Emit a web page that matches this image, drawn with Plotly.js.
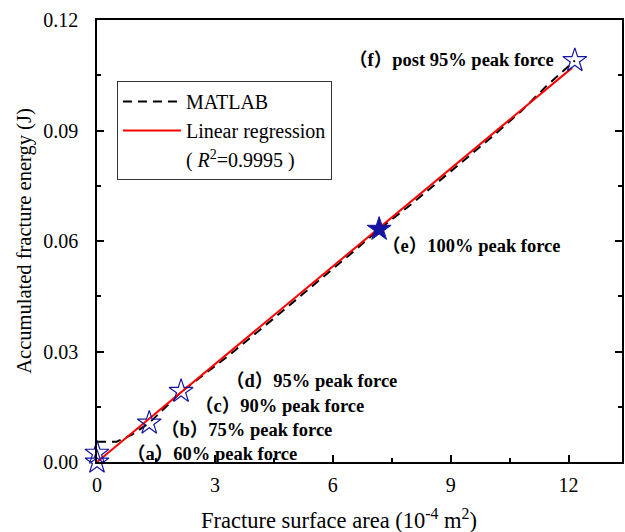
<!DOCTYPE html>
<html>
<head>
<meta charset="utf-8">
<script src="https://cdn.plot.ly/plotly-3.0.1.min.js"></script>
<style>html,body{margin:0;padding:0;background:#fff}#chart{width:625px;height:532px}</style>
</head>
<body>
<div id="chart"></div>
<script>
// MATLAB curve (accumulated fracture energy vs fracture surface area)
var matlabX = [0, 0.5, 0.9, 1.33, 2.14, 2.6, 3.4, 4.5, 5.9, 6.6, 7.18, 8.0, 9.0, 10.0, 10.8, 11.45, 12.16];
var matlabY = [0.0055, 0.0055, 0.0075, 0.0106, 0.0190, 0.0228, 0.0293, 0.0390, 0.0514, 0.0578, 0.0632, 0.0700, 0.0789, 0.0878, 0.0953, 0.1022, 0.1090];
// Linear regression
var regX = [0, 12.09];
var regY = [0.0, 0.1070];
// Stage points (open stars) and peak (filled star)
var stageX = [0, 0, 1.33, 2.14, 12.16];
var stageY = [0.0, 0.0024, 0.0106, 0.0192, 0.1090];
var peakX = [7.18];
var peakY = [0.0632];
// Stage labels
var labelTag = ["a", "b", "c", "d", "e", "f"];
var labelText = ["60% peak force", "75% peak force", "90% peak force", "95% peak force", "100% peak force", "post 95% peak force"];
var labelX = [0.7, 1.58, 2.44, 3.24, 7.2, 6.36];
var labelY = [0.0027, 0.0092, 0.0157, 0.0225, 0.0592, 0.1097];
var xTicks = [0, 3, 6, 9, 12];
var yTicks = [0, 0.03, 0.06, 0.09, 0.12];
var xTitle = "Fracture surface area (10<sup>-4</sup> m<sup>2</sup>)";
var yTitle = "Accumulated fracture energy (J)";

var serif = "Liberation Serif, Times New Roman, serif";
var cjk = "Noto Sans CJK SC";
var starColor = "#1414a0";

var traces = [
  {x: matlabX, y: matlabY, mode: "lines", name: "MATLAB", line: {color: "#000000", width: 2, dash: "9px,6px"}, hoverinfo: "skip"},
  {x: regX, y: regY, mode: "lines", name: "Linear regression", line: {color: "#ff0000", width: 2}},
  {x: [null], y: [null], mode: "lines", name: "( <i>R</i><sup>2</sup>=0.9995 )", line: {color: "rgba(0,0,0,0)", width: 0}},
  {x: stageX, y: stageY, mode: "markers", showlegend: false, cliponaxis: false,
   marker: {symbol: "star-open", size: 18, color: starColor, line: {width: 1.2, color: starColor}}},
  {x: peakX, y: peakY, mode: "markers", showlegend: false, cliponaxis: false,
   marker: {symbol: "star", size: 18, color: starColor, line: {width: 1, color: starColor}}}
];

var annotations = labelText.map(function (t, i) {
  var txt = "<span style=\"font-family:" + cjk + "\">（</span>" + labelTag[i] +
            "<span style=\"font-family:" + cjk + "\">）</span>" + t;
  return {x: labelX[i], y: labelY[i], xref: "x", yref: "y", text: txt, showarrow: false,
    xanchor: "left", yanchor: "middle", font: {family: serif, size: 18.5, color: "#000", weight: "bold"}};
});
annotations.push({x: 0.461, y: 0, xref: "paper", yref: "paper", yshift: -57, text: xTitle, showarrow: false,
  xanchor: "center", yanchor: "middle", font: {family: serif, size: 22.5, color: "#000"}});

var layout = {
  width: 625, height: 532,
  margin: {l: 97, r: 3, t: 20, b: 70},
  paper_bgcolor: "#fff", plot_bgcolor: "#fff",
  showlegend: true,
  legend: {x: 0.038, y: 0.862, xanchor: "left", yanchor: "top", bgcolor: "#fff",
    bordercolor: "#333", borderwidth: 1, itemwidth: 58,
    font: {family: serif, size: 20, color: "#000"}, traceorder: "normal"},
  xaxis: {range: [0, 13.36], tickvals: xTicks, ticktext: xTicks.map(String), ticks: "inside", ticklen: 7, tickwidth: 1.5,
    tickcolor: "#000", showline: true, linecolor: "#000", linewidth: 1.5, mirror: true, showgrid: false, zeroline: false,
    ticklabelstandoff: 4,
    minor: {tickvals: [1.5, 4.5, 7.5, 10.5], ticks: "inside", ticklen: 4, tickwidth: 1.5, tickcolor: "#000", showgrid: false},
    tickfont: {family: serif, size: 20, color: "#000"}},
  yaxis: {range: [0, 0.12], tickvals: yTicks, ticktext: yTicks.map(function (v) { return v.toFixed(2); }), ticks: "inside", ticklen: 7, tickwidth: 1.5,
    tickcolor: "#000", showline: true, linecolor: "#000", linewidth: 1.5, mirror: "ticks", showgrid: false, zeroline: false,
    ticklabelstandoff: 13,
    minor: {tickvals: [0.015, 0.045, 0.075, 0.105], ticks: "inside", ticklen: 4, tickwidth: 1.5, tickcolor: "#000", showgrid: false},
    tickfont: {family: serif, size: 20, color: "#000"},
    title: {text: yTitle, font: {family: serif, size: 20.5, color: "#000"}, standoff: 6}},
  annotations: annotations
};

Plotly.newPlot("chart", traces, layout, {displayModeBar: false});
</script>
</body>
</html>
